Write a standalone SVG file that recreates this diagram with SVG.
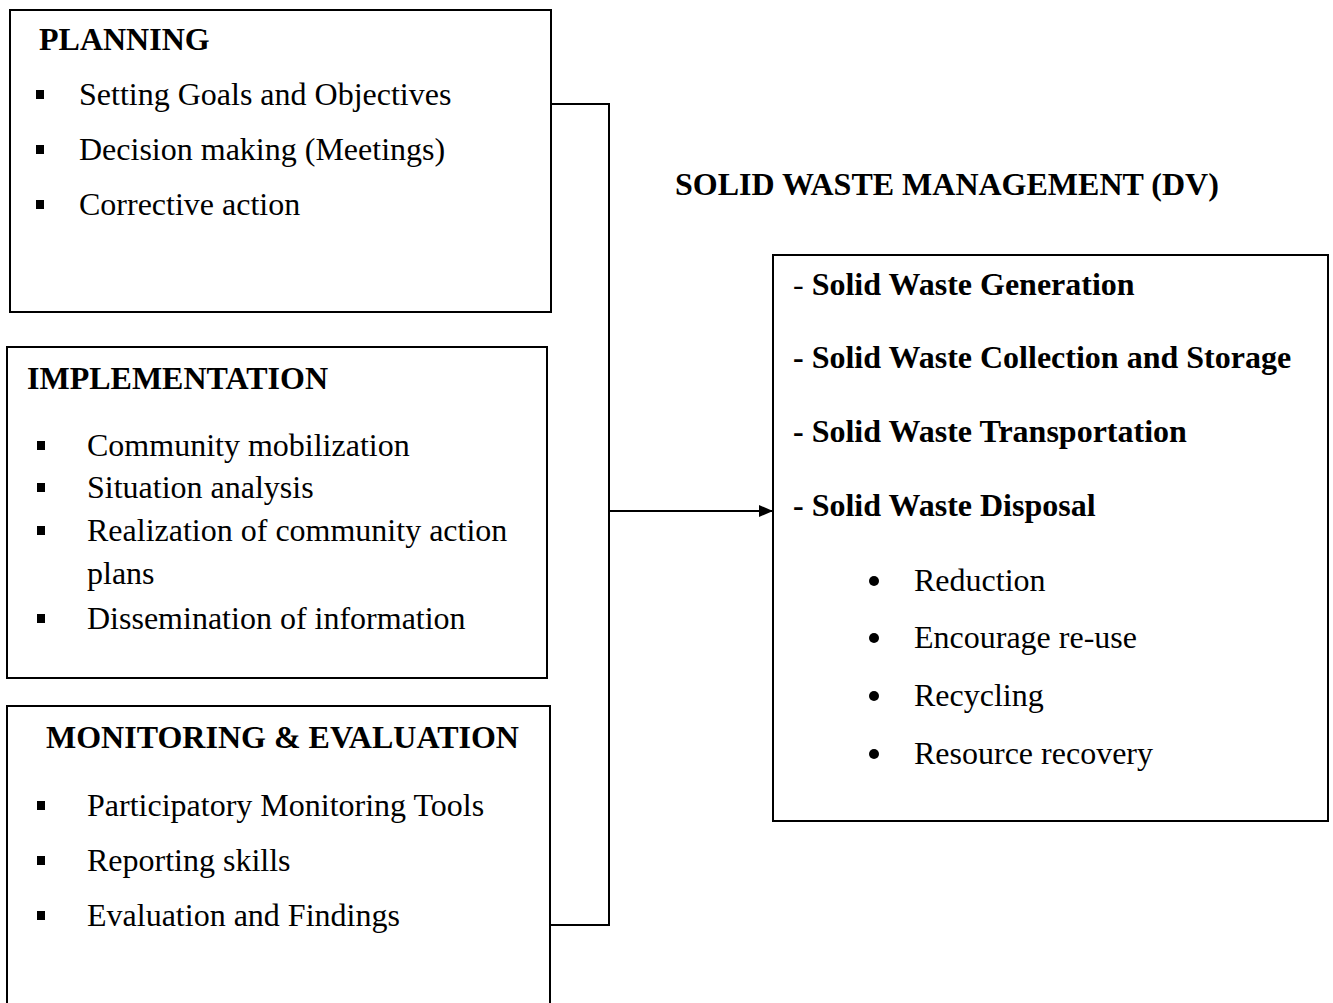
<svg xmlns="http://www.w3.org/2000/svg" width="1333" height="1003" viewBox="0 0 1333 1003">
  <defs>
    <style>
      .box { fill: #ffffff; stroke: #000000; stroke-width: 2; }
      .wire { fill: none; stroke: #000000; stroke-width: 2; }
      text { font-family: "Liberation Serif", "Times New Roman", serif; fill: #000000; }
      .title { font-size: 32px; font-weight: bold; }
      .item { font-size: 32px; }
      .main { font-size: 32px; font-weight: bold; }
      .sq { fill: #000000; }
    </style>
    <marker id="arrow" viewBox="0 0 14 12" refX="14" refY="6" markerWidth="14" markerHeight="12" markerUnits="userSpaceOnUse" orient="auto">
      <path d="M0,0 L14,6 L0,12 Z" fill="#000000"/>
    </marker>
  </defs>
  <rect width="1333" height="1003" fill="#ffffff"/>

  <!-- connectors -->
  <g id="connectors">
    <polyline class="wire" points="551,104 609,104 609,925 551,925"/>
    <line class="wire" x1="609" y1="511" x2="773" y2="511" marker-end="url(#arrow)"/>
  </g>

  <!-- planning -->
  <g id="planning">
    <rect class="box" x="10" y="10" width="541" height="302"/>
    <text class="title" x="39" y="50">PLANNING</text>
    <rect class="sq" x="36" y="90" width="8" height="9"/>
    <text class="item" x="79" y="105">Setting Goals and Objectives</text>
    <rect class="sq" x="36" y="145" width="8" height="9"/>
    <text class="item" x="79" y="160">Decision making (Meetings)</text>
    <rect class="sq" x="36" y="200" width="8" height="9"/>
    <text class="item" x="79" y="215">Corrective action</text>
  </g>

  <!-- implementation -->
  <g id="implementation">
    <rect class="box" x="7" y="347" width="540" height="331"/>
    <text class="title" x="27" y="389">IMPLEMENTATION</text>
    <rect class="sq" x="37" y="441" width="8" height="9"/>
    <text class="item" x="87" y="456">Community mobilization</text>
    <rect class="sq" x="37" y="483" width="8" height="9"/>
    <text class="item" x="87" y="498">Situation analysis</text>
    <rect class="sq" x="37" y="526" width="8" height="9"/>
    <text class="item" x="87" y="541">Realization of community action</text>
    <text class="item" x="87" y="584">plans</text>
    <rect class="sq" x="37" y="614" width="8" height="9"/>
    <text class="item" x="87" y="629">Dissemination of information</text>
  </g>

  <!-- monitoring and evaluation -->
  <g id="monitoring">
    <rect class="box" x="7" y="706" width="543" height="310"/>
    <text class="title" x="46" y="748">MONITORING &amp; EVALUATION</text>
    <rect class="sq" x="37" y="801" width="8" height="9"/>
    <text class="item" x="87" y="816">Participatory Monitoring Tools</text>
    <rect class="sq" x="37" y="856" width="8" height="9"/>
    <text class="item" x="87" y="871">Reporting skills</text>
    <rect class="sq" x="37" y="911" width="8" height="9"/>
    <text class="item" x="87" y="926">Evaluation and Findings</text>
  </g>

  <!-- dependent variable -->
  <g id="swm-label">
    <text class="title" x="675" y="195">SOLID WASTE MANAGEMENT (DV)</text>
  </g>
  <g id="swm">
    <rect class="box" x="773" y="255" width="555" height="566"/>
    <text class="main" x="793" y="295"><tspan font-weight="normal">- </tspan>Solid Waste Generation</text>
    <text class="main" x="793" y="368">- Solid Waste Collection and Storage</text>
    <text class="main" x="793" y="442">- Solid Waste Transportation</text>
    <text class="main" x="793" y="516">- Solid Waste Disposal</text>
    <circle cx="874" cy="581" r="5"/>
    <text class="item" x="914" y="591">Reduction</text>
    <circle cx="874" cy="638" r="5"/>
    <text class="item" x="914" y="648">Encourage re-use</text>
    <circle cx="874" cy="696" r="5"/>
    <text class="item" x="914" y="706">Recycling</text>
    <circle cx="874" cy="754" r="5"/>
    <text class="item" x="914" y="764">Resource recovery</text>
  </g>
</svg>
